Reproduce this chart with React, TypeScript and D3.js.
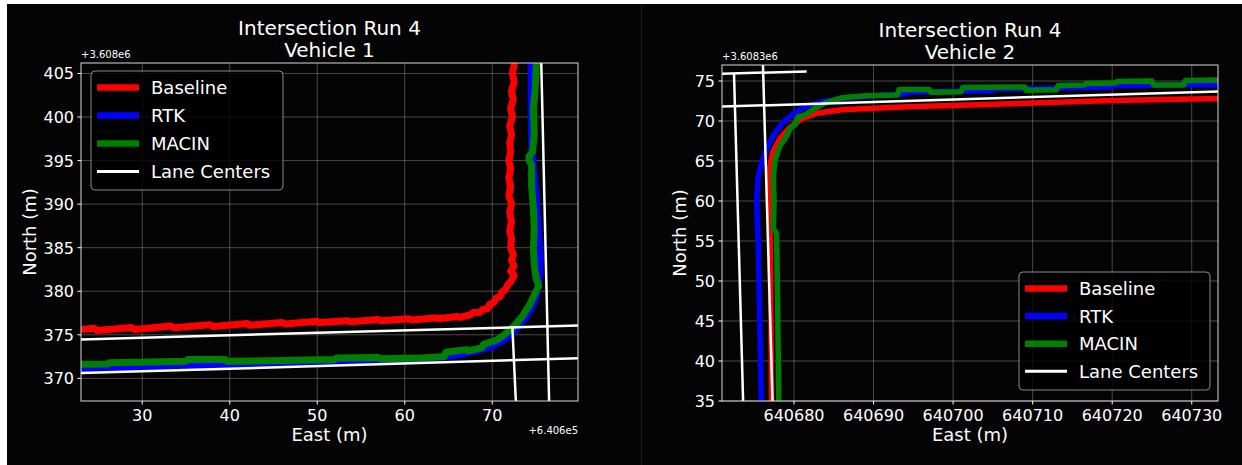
import React, { useEffect } from 'react';
import * as d3 from 'd3';

type Pt = [number, number];

// Vehicle 1 — east offset +6.406e5, north offset +3.608e6
const v1Baseline: Pt[] = [
  [22.5, 375.55], [24.5, 375.75], [24.8, 375.5], [28.8, 375.85], [29.1, 375.6], [33.3, 376.0],
  [33.6, 375.8], [37.8, 376.15], [38.1, 375.95], [42, 376.3], [42.3, 376.1], [46, 376.4],
  [46.3, 376.25], [50, 376.55], [50.3, 376.4], [53.5, 376.6], [53.8, 376.5], [57, 376.75],
  [57.3, 376.6], [60.5, 376.85], [60.8, 376.7], [63.5, 376.95], [63.8, 376.85], [66, 377.1],
  [66.3, 377.0], [67.5, 377.3], [67.8, 377.55], [68.6, 377.6], [68.9, 377.9], [69.5, 378.0],
  [69.7, 378.5], [70.2, 378.7], [70.4, 379.2], [70.9, 379.4], [71.1, 379.9], [71.5, 380.2],
  [71.8, 380.8], [72.1, 381.1], [72.5, 381.8], [72.1, 382.3], [72.5, 382.9], [72.2, 383.5],
  [72.4, 384.2], [72.1, 385.0], [72.2, 386.0], [72.0, 387.0], [72.2, 388.0], [72.0, 389.0],
  [72.2, 390.0], [71.9, 391.0], [72.1, 392.0], [71.9, 393.0], [72.1, 394.0], [71.9, 395.0],
  [72.1, 396.0], [72.0, 397.0], [72.2, 398.0], [72.0, 399.0], [72.3, 400.0], [72.1, 401.0],
  [72.4, 402.0], [72.2, 403.0], [72.5, 404.0], [72.3, 405.0], [72.5, 406.0], [72.5, 407.5],
];
const v1Rtk: Pt[] = [
  [22.5, 371.1], [30, 371.3], [40, 371.55], [50, 371.85], [60, 372.2], [64, 372.4],
  [66, 372.7], [68, 373.1], [70, 373.7], [71.5, 374.5], [72.5, 375.4], [73.5, 376.6],
  [74.3, 377.7], [74.9, 379.0], [75.2, 380.3], [75.4, 382.0], [75.5, 383.5], [75.4, 385.0],
  [75.2, 388.0], [75.0, 391.0], [74.7, 394.0], [74.5, 397.0], [74.45, 401.0], [74.45, 407.5],
];
const v1Macin: Pt[] = [
  [22.5, 371.6], [26, 371.65], [26.2, 371.8], [35, 371.95], [35.2, 372.15], [39.5, 372.15],
  [39.7, 371.95], [52, 372.15], [52.2, 372.35], [57, 372.4], [57.2, 372.25], [62, 372.35],
  [64.5, 372.5], [64.7, 373.0], [67, 373.3], [67.2, 373.15], [68.8, 373.5], [69, 373.9],
  [70.5, 374.4], [71.5, 375.1], [72.5, 376.0], [73.5, 377.2], [74.3, 378.5], [74.9, 379.8],
  [75.3, 380.6], [75.0, 381.5], [74.8, 383.0], [74.7, 385.0], [74.8, 387.0], [74.7, 389.5],
  [74.5, 392.0], [74.5, 394.5], [74.2, 395.0], [74.2, 395.5], [74.6, 396.0], [74.8, 398.0],
  [74.7, 401.0], [74.9, 403.0], [75.1, 407.5],
];
const v1Lanes: Pt[][] = [
  [[20, 374.38], [82, 376.13]],
  [[20, 370.51], [82, 372.37]],
  [[72.76, 366], [72.3, 375.9]],
  [[76.53, 366], [75.56, 408]],
];

// Vehicle 2 — north offset +3.6083e6
const v2Baseline: Pt[] = [
  [640677.2, 34], [640677.1, 45], [640677.0, 55], [640676.9, 60], [640676.9, 64],
  [640677.3, 66], [640678.2, 67.8], [640679.5, 69.2], [640681, 70.3], [640683, 71.0],
  [640686, 71.4], [640690, 71.6], [640695, 71.8], [640700, 71.95], [640710, 72.25],
  [640720, 72.55], [640730, 72.75], [640735, 72.85],
];
const v2Rtk: Pt[] = [
  [640675.9, 34], [640675.7, 45], [640675.5, 55], [640675.3, 60], [640675.5, 63],
  [640676.0, 65], [640676.8, 67], [640677.6, 68.5], [640678.6, 69.8], [640680, 71],
  [640681.5, 71.8], [640683.5, 72.4], [640686, 72.8], [640690, 73.15], [640694, 73.4],
  [640694.2, 73.6], [640705, 73.8], [640705.2, 74.0], [640715, 74.15], [640720, 74.25],
  [640720.2, 74.45], [640735, 74.55],
];
const v2Macin: Pt[] = [
  [640678.1, 34], [640678.0, 42], [640677.9, 50], [640677.8, 56], [640677.4, 56.5],
  [640677.5, 60], [640677.4, 63], [640677.6, 65], [640678.2, 66.8], [640679.0, 68],
  [640679.6, 69.2], [640680.2, 69.6], [640680.5, 70.5], [640681.5, 70.8], [640682.5, 71.5],
  [640684, 72.3], [640686, 72.9], [640689, 73.15], [640693, 73.25], [640693.2, 73.95],
  [640697, 73.95], [640697.2, 73.6], [640701, 73.65], [640701.2, 74.2], [640709, 74.25],
  [640709.2, 73.85], [640713, 73.9], [640713.2, 74.45], [640716.5, 74.5], [640716.7, 74.7],
  [640720.4, 74.75], [640720.6, 74.95], [640725, 75.0], [640725.2, 74.5], [640729, 74.5],
  [640729.2, 75.05], [640735, 75.15],
];
const v2Lanes: Pt[][] = [
  [[640668, 71.71], [640736, 73.78]],
  [[640668, 75.82], [640681.6, 76.2]],
  [[640672.46, 75.9], [640673.63, 34]],
  [[640676.07, 78], [640677.33, 34]],
];

const seriesNames = ['Baseline', 'RTK', 'MACIN', 'Lane Centers'];
const seriesColors = ['#ff0000', '#0000ff', '#008000', '#ffffff'];

const v1XTicks = [30, 40, 50, 60, 70];
const v1YTicks = [370, 375, 380, 385, 390, 395, 400, 405];
const v2XTicks = [640680, 640690, 640700, 640710, 640720, 640730];
const v2YTicks = [35, 40, 45, 50, 55, 60, 65, 70, 75];

const FONT = '"DejaVu Sans", sans-serif';

const Panel = ({ cfg }) => {
  const x = d3.scaleLinear().domain(cfg.xDomain).range([cfg.left, cfg.right]);
  const y = d3.scaleLinear().domain(cfg.yDomain).range([cfg.bottom, cfg.top]);
  const line = d3.line<Pt>().x(d => x(d[0])).y(d => y(d[1]));
  const midX = (cfg.left + cfg.right) / 2;
  const midY = (cfg.top + cfg.bottom) / 2;
  const clipId = 'clip-' + cfg.id;
  const fmt = d3.format('d');

  return (
    <g>
      <defs>
        <clipPath id={clipId}>
          <rect x={cfg.left} y={cfg.top} width={cfg.right - cfg.left} height={cfg.bottom - cfg.top} />
        </clipPath>
      </defs>
      <text x={midX} y={cfg.titleY} fill="#fff" fontSize={20} textAnchor="middle" fontFamily={FONT}>Intersection Run 4</text>
      <text x={midX} y={cfg.titleY + 22} fill="#fff" fontSize={20} textAnchor="middle" fontFamily={FONT}>{cfg.subtitle}</text>

      {/* grid */}
      <g stroke="#b0b0b0" strokeOpacity={0.5} strokeWidth={0.8}>
        {cfg.xTicks.map(t => <line key={'gx' + t} x1={x(t)} x2={x(t)} y1={cfg.top} y2={cfg.bottom} />)}
        {cfg.yTicks.map(t => <line key={'gy' + t} x1={cfg.left} x2={cfg.right} y1={y(t)} y2={y(t)} />)}
      </g>

      <g clipPath={`url(#${clipId})`} fill="none" strokeLinejoin="round">
        {cfg.series.map((s, i) => (
          <path key={i} d={line(s) || ''} stroke={seriesColors[i]} strokeWidth={cfg.lw} />
        ))}
        {cfg.lanes.map((l, i) => (
          <path key={'l' + i} d={line(l) || ''} stroke="#fff" strokeWidth={2.5} />
        ))}
      </g>

      <rect x={cfg.left} y={cfg.top} width={cfg.right - cfg.left} height={cfg.bottom - cfg.top}
        fill="none" stroke="#d8d8d8" strokeWidth={1} />

      {/* x ticks */}
      {cfg.xTicks.map(t => (
        <g key={'xt' + t}>
          <line x1={x(t)} x2={x(t)} y1={cfg.bottom} y2={cfg.bottom + 3.5} stroke="#fff" />
          <text x={x(t)} y={cfg.bottom + 20} fill="#fff" fontSize={16} textAnchor="middle" fontFamily={FONT}>{fmt(t)}</text>
        </g>
      ))}
      {cfg.yTicks.map(t => (
        <g key={'yt' + t}>
          <line x1={cfg.left - 3.5} x2={cfg.left} y1={y(t)} y2={y(t)} stroke="#fff" />
          <text x={cfg.left - 7} y={y(t) + 6} fill="#fff" fontSize={16} textAnchor="end" fontFamily={FONT}>{fmt(t)}</text>
        </g>
      ))}

      <text x={midX} y={cfg.bottom + 40} fill="#fff" fontSize={18} textAnchor="middle" fontFamily={FONT}>East (m)</text>
      <text transform={`translate(${cfg.yLabelX},${midY}) rotate(-90)`} fill="#fff" fontSize={18} textAnchor="middle" fontFamily={FONT}>North (m)</text>

      {cfg.yOffset && (
        <text x={cfg.left} y={cfg.top - 5} fill="#fff" fontSize={10} fontFamily={FONT}>{cfg.yOffset}</text>
      )}
      {cfg.xOffset && (
        <text x={cfg.right} y={cfg.bottom + 33} fill="#fff" fontSize={10} textAnchor="end" fontFamily={FONT}>{cfg.xOffset}</text>
      )}

      {/* legend */}
      <g>
        <rect x={cfg.legend.x} y={cfg.legend.y} width={cfg.legend.w} height={cfg.legend.h} rx={4}
          fill="#000" fillOpacity={0.8} stroke="#8a8a8a" strokeWidth={1} />
        {seriesNames.map((n, i) => {
          const ry = cfg.legend.y + 16.5 + i * cfg.legend.step;
          return (
            <g key={n}>
              <line x1={cfg.legend.x + 6} x2={cfg.legend.x + 48} y1={ry} y2={ry}
                stroke={seriesColors[i]} strokeWidth={i === 3 ? 3 : 6.5} />
              <text x={cfg.legend.x + 60} y={ry + 6.5} fill="#fff" fontSize={18} fontFamily={FONT}>{n}</text>
            </g>
          );
        })}
      </g>
    </g>
  );
};

const panels = [
  {
    id: 'v1', subtitle: 'Vehicle 1', titleY: 35,
    left: 81, right: 578, top: 63, bottom: 401,
    xDomain: [23, 79.8], yDomain: [367.4, 406.2],
    xTicks: v1XTicks, yTicks: v1YTicks,
    series: [v1Baseline, v1Rtk, v1Macin], lanes: v1Lanes, lw: 7,
    yLabelX: 36, yOffset: '+3.608e6', xOffset: '+6.406e5',
    legend: { x: 91, y: 71, w: 192, h: 119, step: 28 },
  },
  {
    id: 'v2', subtitle: 'Vehicle 2', titleY: 37,
    left: 722, right: 1218, top: 65, bottom: 401,
    xDomain: [640670.95, 640733.3], yDomain: [35, 77],
    xTicks: v2XTicks, yTicks: v2YTicks,
    series: [v2Baseline, v2Rtk, v2Macin], lanes: v2Lanes, lw: 5.5,
    yLabelX: 686, yOffset: '+3.6083e6', xOffset: null,
    legend: { x: 1019, y: 272, w: 191, h: 118, step: 27.6 },
  },
];

export default function App() {
  useEffect(() => {
    document.body.style.margin = '0';
    document.body.style.background = '#fff';
  }, []);

  return (
    <svg width={1242} height={465} style={{ display: 'block' }}>
      <rect x={7} y={4} width={634} height={461} fill="#040404" />
      <rect x={641} y={4} width={601} height={461} fill="#040404" />
      <line x1={641.5} x2={641.5} y1={4} y2={465} stroke="#1e1e1e" />
      {panels.map(p => <Panel key={p.id} cfg={p} />)}
    </svg>
  );
}
